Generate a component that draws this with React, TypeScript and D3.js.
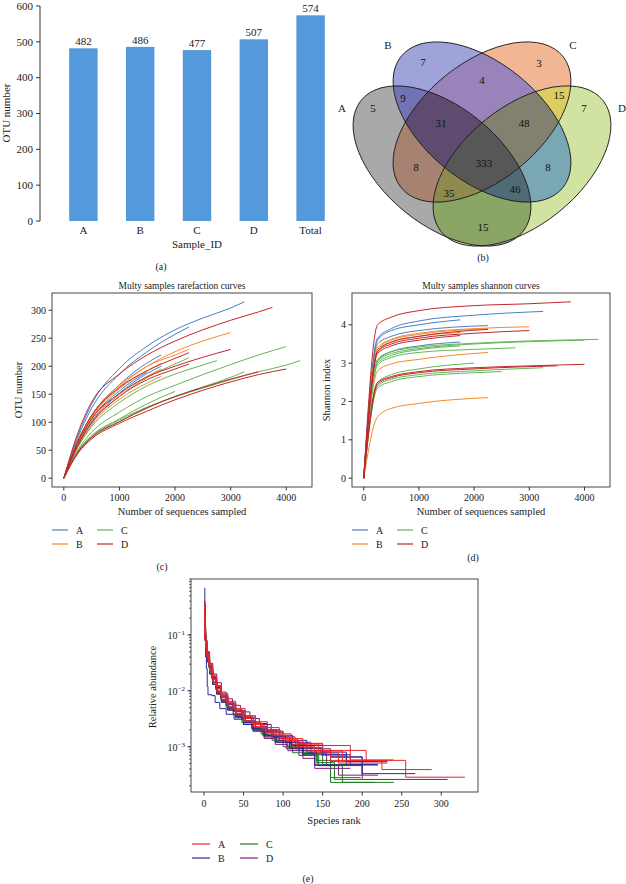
import React from 'react';
import * as d3 from 'd3';

const FONT = '"Liberation Serif", "Times New Roman", serif';

// ---------- (a) OTU bar chart ----------
const barCategories = ['A', 'B', 'C', 'D', 'Total'];
const barValues = [482, 486, 477, 507, 574];
const barTicks = [0, 100, 200, 300, 400, 500, 600];

// ---------- (b) Venn ----------
const vennSets = ['A', 'B', 'C', 'D'];
const vennRegionKeys = ['A', 'B', 'C', 'D', 'AB', 'AC', 'AD', 'BC', 'BD', 'CD', 'ABC', 'ABD', 'ACD', 'BCD', 'ABCD'];
const vennCounts = [5, 7, 3, 7, 9, 8, 15, 4, 8, 15, 31, 46, 35, 48, 333];

// ---------- (c) rarefaction curves (sequences, OTUs) ----------
const rareA: [number, number][][] = [
  [[0, 0], [250, 76], [500, 132], [1000, 196], [1500, 236], [2000, 265], [2500, 286], [3000, 304], [3250, 315]],
  [[0, 0], [250, 72], [500, 125], [1000, 186], [1500, 226], [2000, 257], [2250, 270]],
  [[0, 0], [250, 66], [500, 112], [1000, 167], [1500, 206], [1750, 220]],
  [[0, 0], [250, 60], [500, 102], [1000, 152], [1500, 187], [1750, 200]],
  [[0, 0], [250, 62], [500, 106], [1000, 156], [1500, 190]],
];
const rareB: [number, number][][] = [
  [[0, 0], [250, 66], [500, 112], [1000, 166], [1500, 200], [2000, 226], [2500, 245], [3000, 260]],
  [[0, 0], [250, 64], [500, 110], [1000, 163], [1500, 200], [2000, 220], [2250, 230]],
  [[0, 0], [250, 62], [500, 108], [1000, 160], [1500, 192], [1750, 205]],
  [[0, 0], [250, 58], [500, 100], [1000, 150], [1500, 182], [1750, 195]],
  [[0, 0], [250, 55], [500, 95], [1000, 141], [1500, 170], [1750, 182]],
];
const rareC: [number, number][][] = [
  [[0, 0], [250, 50], [500, 82], [1000, 118], [1500, 146], [2000, 166], [2500, 185], [3000, 203], [3500, 220], [4000, 235]],
  [[0, 0], [250, 47], [500, 74], [1000, 104], [1500, 127], [2000, 145], [2500, 161], [3000, 176], [3500, 190], [4000, 202], [4250, 210]],
  [[0, 0], [250, 55], [500, 92], [1000, 135], [1500, 165], [2000, 186], [2500, 202], [2750, 210]],
  [[0, 0], [250, 58], [500, 98], [1000, 146], [1500, 180], [2000, 204], [2250, 215]],
  [[0, 0], [250, 45], [500, 72], [1000, 101], [1500, 125], [2000, 146], [2500, 163], [3000, 180], [3250, 190]],
  [[0, 0], [250, 48], [500, 76], [1000, 106], [1500, 133], [2000, 155]],
];
const rareD: [number, number][][] = [
  [[0, 0], [250, 80], [500, 136], [1000, 186], [1500, 220], [2000, 245], [2500, 265], [3000, 282], [3500, 297], [3750, 305]],
  [[0, 0], [250, 62], [500, 106], [1000, 151], [1500, 181], [2000, 200], [2500, 216], [3000, 230]],
  [[0, 0], [250, 66], [500, 112], [1000, 162], [1500, 192], [2000, 214], [2250, 224]],
  [[0, 0], [250, 58], [500, 99], [1000, 146], [1500, 176], [2000, 195], [2250, 204]],
  [[0, 0], [250, 44], [500, 70], [1000, 98], [1500, 120], [2000, 140], [2500, 157], [3000, 172], [3500, 185], [4000, 195]],
  [[0, 0], [250, 46], [500, 73], [1000, 101], [1500, 126], [2000, 146], [2500, 162], [3000, 177], [3500, 190]],
];

// ---------- (d) shannon curves (sequences, index) ----------
const shanA: [number, number][][] = [
  [[0, 0], [250, 3.65], [500, 3.9], [1000, 4.1], [2000, 4.25], [3250, 4.35]],
  [[0, 0], [250, 3.6], [500, 3.85], [1000, 4.0], [1750, 4.13]],
  [[0, 0], [250, 3.5], [500, 3.7], [1000, 3.85], [2250, 3.98]],
  [[0, 0], [250, 3.05], [500, 3.3], [1000, 3.45], [1750, 3.55]],
];
const shanB: [number, number][][] = [
  [[0, 0], [250, 3.4], [500, 3.62], [1000, 3.78], [2000, 3.9], [3000, 3.95]],
  [[0, 0], [250, 3.35], [500, 3.6], [1000, 3.75], [2250, 3.9]],
  [[0, 0], [250, 3.35], [500, 3.55], [1000, 3.7], [1750, 3.8]],
  [[0, 0], [250, 2.8], [500, 2.98], [1000, 3.1], [2250, 3.28]],
  [[0, 0], [250, 1.6], [500, 1.82], [1000, 1.95], [2250, 2.1]],
];
const shanC: [number, number][][] = [
  [[0, 0], [250, 3.1], [500, 3.3], [1000, 3.42], [2000, 3.52], [3000, 3.58], [4250, 3.62]],
  [[0, 0], [250, 3.05], [500, 3.25], [1000, 3.38], [2000, 3.5], [3000, 3.56], [4000, 3.6]],
  [[0, 0], [250, 2.95], [500, 3.15], [1000, 3.28], [2000, 3.36], [2750, 3.4]],
  [[0, 0], [250, 3.0], [500, 3.2], [1000, 3.35], [1750, 3.45]],
  [[0, 0], [250, 2.5], [500, 2.7], [1000, 2.85], [2000, 3.0]],
  [[0, 0], [250, 2.4], [500, 2.58], [1000, 2.7], [2000, 2.8], [3250, 2.88]],
  [[0, 0], [250, 2.35], [500, 2.52], [1000, 2.65], [2000, 2.75], [2500, 2.78]],
];
const shanD: [number, number][][] = [
  [[0, 0], [250, 4.0], [500, 4.2], [1000, 4.37], [2000, 4.5], [3000, 4.55], [3750, 4.6]],
  [[0, 0], [250, 3.3], [500, 3.55], [1000, 3.7], [2250, 3.88]],
  [[0, 0], [250, 3.3], [500, 3.5], [1000, 3.65], [2000, 3.78], [3000, 3.85]],
  [[0, 0], [250, 3.25], [500, 3.45], [1000, 3.6], [1750, 3.72]],
  [[0, 0], [250, 2.5], [500, 2.65], [1000, 2.78], [2000, 2.88], [3000, 2.93], [4000, 2.97]],
  [[0, 0], [250, 2.45], [500, 2.62], [1000, 2.75], [2000, 2.85], [3500, 2.93]],
];

// ---------- (e) rank abundance (rank, relative abundance) ----------
const rankA: [number, number][][] = [
  [[0, .30], [1, .11], [2, .065], [4, .04], [7, .025], [11, .016], [16, .011], [22, .008], [30, .0058], [40, .0042], [50, .0032], [62, .0025], [75, .002], [90, .0016], [105, .0013], [120, .00115], [150, .00086], [205, .00057], [255, .000285], [330, .000285]],
  [[0, .25], [1, .09], [3, .05], [6, .03], [10, .019], [15, .012], [21, .0085], [28, .0063], [37, .0047], [48, .0035], [60, .0027], [72, .0022], [85, .0018], [100, .0014], [118, .00112], [145, .00084], [175, .00056], [225, .00039], [288, .00039]],
  [[0, .40], [1, .13], [2, .075], [4, .045], [7, .028], [11, .018], [16, .0125], [22, .009], [30, .0065], [40, .0048], [52, .0036], [65, .0028], [80, .0022], [95, .0017], [110, .0014], [125, .00112], [150, .00105], [185, .00058], [240, .00058]],
  [[0, .20], [1, .08], [3, .045], [6, .028], [10, .018], [15, .012], [21, .0083], [29, .006], [38, .0045], [49, .0034], [60, .0026], [72, .002], [86, .0016], [100, .0013], [118, .001], [140, .00077], [170, .00051], [232, .00051]],
  [[0, .32], [1, .10], [2, .06], [4, .036], [7, .022], [11, .014], [16, .0095], [22, .007], [30, .005], [40, .0037], [50, .0029], [62, .0023], [78, .0018], [95, .0014], [112, .0011], [130, .00085], [160, .00057], [215, .00057]],
];
const rankB: [number, number][][] = [
  [[0, .68], [1, .15], [2, .04], [3, .025], [4, .012], [5, .0085], [10, .0082], [14, .0062], [20, .0048], [28, .0038], [38, .0031], [50, .0025], [62, .002], [78, .0016], [95, .0013], [110, .00105], [130, .0008], [160, .00055], [220, .00055]],
  [[0, .30], [1, .10], [2, .06], [4, .035], [7, .022], [11, .014], [16, .0096], [22, .007], [30, .0051], [40, .0038], [52, .0029], [65, .0023], [80, .0018], [95, .0014], [110, .0011], [125, .00085], [160, .00066], [200, .00033], [267, .00033]],
  [[0, .22], [1, .08], [3, .045], [6, .027], [10, .017], [15, .011], [21, .0078], [28, .0057], [37, .0043], [48, .0032], [60, .0025], [73, .0019], [88, .0015], [103, .0012], [120, .00095], [150, .00072], [185, .00048], [220, .00048]],
  [[0, .28], [1, .09], [2, .055], [4, .033], [7, .02], [11, .013], [16, .0088], [22, .0064], [30, .0047], [40, .0035], [50, .0027], [62, .0021], [76, .0016], [92, .0012], [108, .00095], [125, .00075], [140, .00047], [184, .00047]],
  [[0, .35], [1, .12], [2, .07], [4, .042], [7, .026], [11, .017], [16, .0115], [22, .0083], [30, .006], [40, .0044], [52, .0034], [65, .0026], [80, .002], [96, .0016], [112, .0013], [130, .00105], [150, .0008], [180, .00054], [232, .00054]],
];
const rankC: [number, number][][] = [
  [[0, .25], [1, .09], [2, .055], [4, .034], [7, .021], [11, .013], [16, .0088], [22, .0063], [30, .0045], [40, .0033], [50, .0025], [62, .0019], [76, .0015], [92, .0012], [108, .00093], [125, .00075], [145, .00046], [175, .00023], [240, .00023]],
  [[0, .30], [1, .10], [3, .05], [6, .029], [10, .017], [15, .011], [21, .0075], [28, .0053], [37, .0039], [48, .0029], [60, .0022], [72, .0017], [86, .0013], [100, .001], [112, .00078], [143, .00052], [165, .00026], [200, .00026]],
  [[0, .20], [1, .08], [3, .044], [6, .026], [10, .016], [15, .0103], [21, .007], [28, .005], [37, .0037], [48, .0027], [60, .0021], [74, .0016], [90, .0012], [108, .00092], [125, .0007], [143, .00046], [160, .00023], [216, .00023]],
  [[0, .35], [1, .11], [2, .065], [4, .038], [7, .023], [11, .0145], [16, .0097], [22, .007], [30, .005], [40, .0037], [52, .0028], [65, .0021], [80, .0016], [95, .0012], [110, .00095], [125, .00072], [150, .00048], [200, .00048]],
  [[0, .28], [1, .095], [2, .06], [4, .036], [7, .022], [11, .014], [16, .0093], [22, .0067], [30, .0048], [40, .0035], [50, .0027], [62, .0021], [76, .0016], [90, .0013], [105, .001], [120, .00085], [142, .00057], [160, .00028], [198, .00028]],
];
const rankD: [number, number][][] = [
  [[0, .40], [1, .14], [2, .08], [4, .05], [7, .031], [11, .02], [16, .014], [22, .0095], [28, .0072], [36, .0055], [46, .0042], [58, .0032], [70, .0025], [85, .0019], [100, .0015], [115, .0012], [135, .00092], [160, .00065], [200, .00026], [308, .00026]],
  [[0, .30], [1, .10], [2, .06], [4, .036], [7, .022], [11, .014], [16, .0094], [22, .0068], [30, .0049], [40, .0036], [50, .0027], [62, .002], [76, .0015], [90, .0012], [104, .00092], [120, .0007], [140, .00047], [170, .00031], [220, .00031]],
  [[0, .22], [1, .085], [3, .047], [6, .028], [10, .0175], [15, .0115], [21, .0081], [28, .006], [37, .0044], [48, .0033], [60, .0025], [72, .0019], [86, .0015], [100, .0012], [116, .00092], [135, .00075], [155, .00046], [200, .00031]],
  [[0, .33], [1, .11], [2, .066], [4, .04], [7, .025], [11, .016], [16, .011], [22, .008], [30, .0058], [40, .0043], [50, .0033], [62, .0026], [76, .002], [92, .0015], [108, .0012], [125, .00095], [148, .00071], [180, .00047], [220, .00047]],
  [[0, .26], [1, .09], [2, .055], [4, .033], [7, .02], [11, .013], [16, .0087], [22, .0062], [30, .0045], [40, .0033], [50, .0025], [62, .0019], [76, .0014], [90, .0011], [106, .00085], [125, .00062], [140, .00041], [185, .00041]],
];

const curveGroups = ['A', 'B', 'C', 'D'];
const rareTicksX = [0, 1000, 2000, 3000, 4000];
const rareTicksY = [0, 50, 100, 150, 200, 250, 300];
const shanTicksY = [0, 1, 2, 3, 4];
const rankTicksX = [0, 50, 100, 150, 200, 250, 300];
const rankTicksY = [1e-1, 1e-2, 1e-3];
const rankTickExp = ['−1', '−2', '−3'];

// ---------- styles ----------
const barColor = '#5499db';
const cdColors: Record<string, string> = { A: '#4a80c2', B: '#f5892c', C: '#66b657', D: '#c0272d' };
const eColors: Record<string, string> = { A: '#e8262a', B: '#28289a', C: '#1f7d1f', D: '#7c207c' };
const vennColors: Record<string, string> = {
  A: '#a9a9a9', B: '#a0a3da', C: '#f1b795', D: '#d1e3a0',
  AB: '#7173b5', AC: '#a88271', AD: '#8aa565', BC: '#9a82ba', BD: '#79a7b4', CD: '#dccd63',
  ABC: '#5e4c70', ABD: '#4f6b76', ACD: '#8f8a4f', BCD: '#82816f', ABCD: '#585757',
};
const vennGeom = [
  { cx: 442, cy: 166, rot: 45 },
  { cx: 482, cy: 122, rot: 45 },
  { cx: 482, cy: 122, rot: -45 },
  { cx: 522, cy: 166, rot: -45 },
];
const vennSX = 312, vennSY = 281, vennRX = 0.35, vennRY = 0.2;
const vennLabelPos: Record<string, [number, number]> = {
  A: [373, 108], B: [423, 62], C: [539, 63], D: [584, 108],
  AB: [403, 98], AC: [416, 167], AD: [483, 227], BC: [482, 80], BD: [548, 167], CD: [559, 95],
  ABC: [441, 123], ABD: [515, 189], ACD: [449, 193], BCD: [524, 123], ABCD: [484, 163],
};
const vennSetLabelPos: [number, number][] = [[342, 108], [388, 45], [573, 45], [622, 108]];

const AXC = '#333';

function PanelA() {
  const x = d3.scaleBand<string>().domain(barCategories).range([55, 339]).paddingInner(0.5).paddingOuter(0.25);
  const y = d3.scaleLinear().domain([0, 600]).range([221, 6]);
  return (
    <g fontFamily={FONT}>
      <line x1={40} x2={40} y1={y(0)} y2={y(600)} stroke={AXC} />
      {barTicks.map(t => (
        <g key={t}>
          <line x1={36} x2={40} y1={y(t)} y2={y(t)} stroke={AXC} />
          <text x={33} y={y(t) + 3.8} fontSize={11} textAnchor="end" fill="#222">{t}</text>
        </g>
      ))}
      {barCategories.map((c, i) => (
        <g key={c}>
          <rect x={x(c)} y={y(barValues[i])} width={x.bandwidth()} height={y(0) - y(barValues[i])} fill={barColor} />
          <text x={x(c)! + x.bandwidth() / 2} y={y(barValues[i]) - 3} fontSize={11} textAnchor="middle" fill="#222">{barValues[i]}</text>
          <text x={x(c)! + x.bandwidth() / 2} y={234} fontSize={11} textAnchor="middle" fill="#222">{c}</text>
        </g>
      ))}
      <text x={197} y={248} fontSize={11} textAnchor="middle" fill="#222">Sample_ID</text>
      <text transform="translate(10,113) rotate(-90)" fontSize={11} textAnchor="middle" fill="#222">OTU number</text>
      <text x={161} y={270} fontSize={10} textAnchor="middle" fill="#222">(a)</text>
    </g>
  );
}

function ellipseTransform(i: number) {
  const g = vennGeom[i];
  return `translate(${g.cx},${g.cy}) scale(${vennSX},${vennSY}) rotate(${g.rot})`;
}

function PanelB() {
  return (
    <g fontFamily={FONT}>
      <defs>
        {vennSets.map((s, i) => (
          <clipPath id={`vclip${i}`} key={s}>
            <ellipse cx={0} cy={0} rx={vennRX} ry={vennRY} transform={ellipseTransform(i)} />
          </clipPath>
        ))}
        {vennRegionKeys.map(k => (
          <mask id={`vmask-${k}`} key={k} maskUnits="userSpaceOnUse" x={0} y={0} width={626} height={300}>
            <rect x={0} y={0} width={626} height={300} fill="white" />
            {vennSets.map((s, i) => (k.includes(s) ? null : (
              <ellipse key={s} cx={0} cy={0} rx={vennRX} ry={vennRY} transform={ellipseTransform(i)} fill="black" />
            )))}
          </mask>
        ))}
      </defs>
      {vennRegionKeys.map(k => {
        const inc = vennSets.map((s, i) => (k.includes(s) ? i : -1)).filter(i => i >= 0);
        let node: React.ReactNode = <rect x={320} y={0} width={306} height={280} fill={vennColors[k]} />;
        inc.forEach(i => { node = <g clipPath={`url(#vclip${i})`}>{node}</g>; });
        return <g key={k} mask={`url(#vmask-${k})`}>{node}</g>;
      })}
      {vennSets.map((s, i) => (
        <ellipse key={s} cx={0} cy={0} rx={vennRX} ry={vennRY} transform={ellipseTransform(i)}
          fill="none" stroke="#111" strokeWidth={0.9} vectorEffect="non-scaling-stroke" />
      ))}
      {vennRegionKeys.map((k, i) => (
        <text key={k} x={vennLabelPos[k][0]} y={vennLabelPos[k][1] + 4} fontSize={11} textAnchor="middle" fill="#111">{vennCounts[i]}</text>
      ))}
      {vennSets.map((s, i) => (
        <text key={s} x={vennSetLabelPos[i][0]} y={vennSetLabelPos[i][1] + 4} fontSize={11} textAnchor="middle" fill="#222">{s}</text>
      ))}
      <text x={483} y={261} fontSize={10} textAnchor="middle" fill="#222">(b)</text>
    </g>
  );
}

function Legend({ x0, y0, colors, len = 16 }: { x0: number; y0: number; colors: Record<string, string>; len?: number }) {
  const pos: [string, number, number][] = [['A', 0, 0], ['B', 0, 1], ['C', 1, 0], ['D', 1, 1]];
  const colW = len === 16 ? 45 : 48;
  return (
    <g>
      {pos.map(([k, c, r]) => (
        <g key={k}>
          <line x1={x0 + c * colW} x2={x0 + c * colW + len} y1={y0 + r * 14} y2={y0 + r * 14} stroke={colors[k]} strokeWidth={1.2} />
          <text x={x0 + c * colW + len + 8} y={y0 + r * 14 + 3.5} fontSize={10} fill="#222">{k}</text>
        </g>
      ))}
    </g>
  );
}

function CurvePanel({ left, right, yDomain, yTicks, data, title, ylabel, tag, tagY, ylabelX }: {
  left: number; right: number; yDomain: [number, number]; yTicks: number[];
  data: Record<string, [number, number][][]>; title: string; ylabel: string; tag: string; tagY: number; ylabelX: number;
}) {
  const top = 293, bottom = 487;
  const x = d3.scaleLinear().domain([-212.5, 4462.5]).range([left, right]);
  const y = d3.scaleLinear().domain(yDomain).range([bottom, top]);
  const line = d3.line<[number, number]>().x(d => x(d[0])).y(d => y(d[1])).curve(d3.curveMonotoneX);
  const cx = (left + right) / 2;
  return (
    <g fontFamily={FONT}>
      {curveGroups.map(g => data[g].map((c, i) => (
        <path key={g + i} d={line(c) || ''} fill="none" stroke={cdColors[g]} strokeWidth={1} />
      )))}
      <rect x={left} y={top} width={right - left} height={bottom - top} fill="none" stroke={AXC} strokeWidth={0.9} />
      {rareTicksX.map(t => (
        <g key={t}>
          <line x1={x(t)} x2={x(t)} y1={bottom} y2={bottom + 3.5} stroke={AXC} />
          <text x={x(t)} y={501} fontSize={10} textAnchor="middle" fill="#222">{t}</text>
        </g>
      ))}
      {yTicks.map(t => (
        <g key={t}>
          <line x1={left - 3.5} x2={left} y1={y(t)} y2={y(t)} stroke={AXC} />
          <text x={left - 6} y={y(t) + 3.5} fontSize={10} textAnchor="end" fill="#222">{t}</text>
        </g>
      ))}
      <text x={cx} y={289} fontSize={9.5} textAnchor="middle" fill="#222">{title}</text>
      <text x={cx} y={515} fontSize={10.5} textAnchor="middle" fill="#222">Number of sequences sampled</text>
      <text transform={`translate(${ylabelX},390) rotate(-90)`} fontSize={10.5} textAnchor="middle" fill="#222">{ylabel}</text>
      <Legend x0={left} y0={530} colors={cdColors} />
      <text x={tag === '(c)' ? 162 : 473} y={tagY} fontSize={10} textAnchor="middle" fill="#222">{tag}</text>
    </g>
  );
}

function PanelE() {
  const left = 191, right = 478, top = 579, bottom = 792;
  const x = d3.scaleLinear().domain([-16.5, 346.5]).range([left, right]);
  const y = d3.scaleLog().domain([Math.pow(10, -3.81), 1]).range([bottom, top]);
  const line = d3.line<[number, number]>().x(d => x(d[0])).y(d => y(d[1])).curve(d3.curveStepAfter);
  const data: Record<string, [number, number][][]> = { A: rankA, B: rankB, C: rankC, D: rankD };
  const order = ['C', 'D', 'B', 'A'];
  const minor = y.ticks().filter(t => t >= y.domain()[0] && t <= 1);
  return (
    <g fontFamily={FONT}>
      {order.map(g => data[g].map((c, i) => (
        <path key={g + i} d={line(c) || ''} fill="none" stroke={eColors[g]} strokeWidth={1} />
      )))}
      <rect x={left} y={top} width={right - left} height={bottom - top} fill="none" stroke={AXC} strokeWidth={0.9} />
      {rankTicksX.map(t => (
        <g key={t}>
          <line x1={x(t)} x2={x(t)} y1={bottom} y2={bottom + 3.5} stroke={AXC} />
          <text x={x(t)} y={807} fontSize={10} textAnchor="middle" fill="#222">{t}</text>
        </g>
      ))}
      {minor.map((t, i) => (
        <line key={i} x1={left - 2} x2={left} y1={y(t)} y2={y(t)} stroke={AXC} strokeWidth={0.8} />
      ))}
      {rankTicksY.map((t, i) => (
        <g key={t}>
          <line x1={left - 3.5} x2={left} y1={y(t)} y2={y(t)} stroke={AXC} />
          <text x={left - 6} y={y(t) + 4} fontSize={10} textAnchor="end" fill="#222">10<tspan dy={-4} fontSize={7}>{rankTickExp[i]}</tspan></text>
        </g>
      ))}
      <text x={334} y={824} fontSize={10.5} textAnchor="middle" fill="#222">Species rank</text>
      <text transform="translate(156,687) rotate(-90)" fontSize={10.5} textAnchor="middle" fill="#222">Relative abundance</text>
      <Legend x0={192} y0={844} colors={eColors} len={18} />
      <text x={308} y={882} fontSize={10} textAnchor="middle" fill="#222">(e)</text>
    </g>
  );
}

export default function App() {
  return (
    <svg width={626} height={884} viewBox="0 0 626 884"
      style={{ position: 'absolute', left: 0, top: 0, background: '#fff', display: 'block' }}>
      <rect x={0} y={0} width={626} height={884} fill="#fff" />
      <PanelA />
      <PanelB />
      <CurvePanel left={52} right={312} yDomain={[-15.75, 330.75]} yTicks={rareTicksY}
        data={{ A: rareA, B: rareB, C: rareC, D: rareD }} title="Multy samples rarefaction curves"
        ylabel="OTU number" tag="(c)" tagY={570} ylabelX={22} />
      <CurvePanel left={352} right={610} yDomain={[-0.23, 4.83]} yTicks={shanTicksY}
        data={{ A: shanA, B: shanB, C: shanC, D: shanD }} title="Multy samples shannon curves"
        ylabel="Shannon index" tag="(d)" tagY={561} ylabelX={330} />
      <PanelE />
    </svg>
  );
}
